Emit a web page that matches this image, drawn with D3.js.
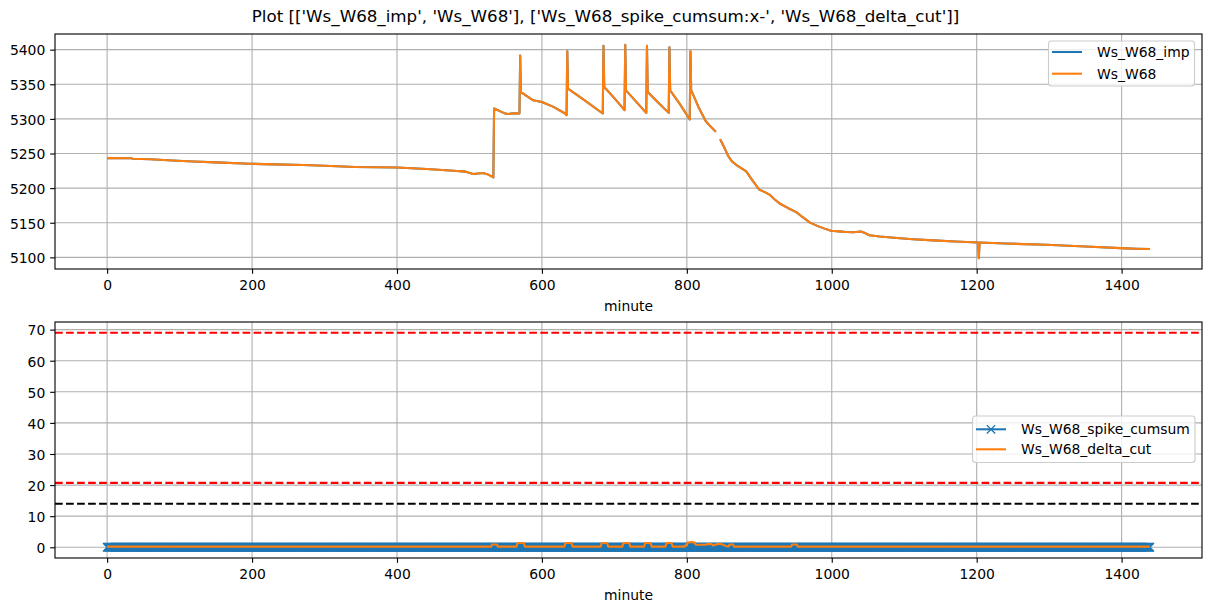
<!DOCTYPE html>
<html><head><meta charset="utf-8">
<script src="https://cdn.jsdelivr.net/npm/d3@7"></script>
<style>
body{margin:0;background:#fff}
svg{display:block;font-family:"DejaVu Sans",sans-serif}
</style>
</head><body>
<svg id="c" width="1211" height="611"></svg>
<script>
// ---------------- data ----------------
const titleText = "Plot [['Ws_W68_imp', 'Ws_W68'], ['Ws_W68_spike_cumsum:x-', 'Ws_W68_delta_cut']]";
const xLabel = "minute";
const xTicks = [0, 200, 400, 600, 800, 1000, 1200, 1400];
const topYTicks = [5100, 5150, 5200, 5250, 5300, 5350, 5400];
const bottomYTicks = [0, 10, 20, 30, 40, 50, 60, 70];
const minuteRange = [0, 1439];

// Ws_W68 (breakpoints; null = missing data gap)
const w68Minutes = [0, 34, 35, 60, 90, 119, 150, 197, 230, 271, 300, 342, 400, 441, 478, 495, 505, 512, 519, 526, 533,
  534, 548, 553, 560, 569, 570, 571, 588, 600, 616, 632, 634, 635, 636, 660, 684, 685, 686, 700, 714, 715, 716, 730, 744,
  745, 746, 760, 775, 776, 777, 790, 804, 805, 806, 812, 816, 826, 831, 840, 843,
  846, 852, 857, 862, 868, 875, 882, 890, 900, 907, 914, 921, 928, 940, 951, 960, 970, 980, 990, 999, 1010, 1020, 1030,
  1040, 1045, 1052, 1066, 1090, 1112, 1140, 1170, 1202, 1203, 1204, 1240, 1296, 1350, 1406, 1420, 1439];
const w68Values = [5243.3, 5243.1, 5242.5, 5241.6, 5240.0, 5238.5, 5237.2, 5235.2, 5234.3, 5233.3, 5232.3, 5230.4, 5229.9,
  5227.6, 5225.1, 5223.8, 5220.4, 5221.2, 5221.8, 5219.5, 5215.5,
  5315.0, 5308.3, 5307.0, 5308.0, 5307.8, 5391.4, 5338.8, 5326.9, 5324.5, 5317.3, 5307.8, 5305.4, 5397.6, 5343.7, 5326.0,
  5307.8, 5405.7, 5346.0, 5330.0, 5312.6, 5407.2, 5341.2, 5325.0, 5308.7, 5405.7, 5338.8, 5324.0, 5308.7, 5403.3, 5341.2,
  5322.0, 5299.2, 5397.6, 5341.2, 5327.0, 5317.3, 5297.0, 5291.0, 5281.5, null,
  5270.6, 5258.0, 5246.6, 5239.0, 5233.7, 5229.0, 5224.1, 5212.0, 5197.9, 5194.5, 5190.7, 5184.0, 5177.8, 5171.0, 5165.4,
  5158.0, 5150.2, 5145.5, 5141.5, 5138.4, 5137.5, 5136.7, 5136.2, 5137.3, 5135.5, 5132.0, 5130.1, 5128.0, 5126.2, 5124.5,
  5123.0, 5121.5, 5098.6, 5121.5, 5120.0, 5118.1, 5115.6, 5113.0, 5112.5, 5112.0];
// Ws_W68_imp coincides with Ws_W68 everywhere in the picture (hidden under it)
const impMinutes = w68Minutes;
const impValues = w68Values;

// Ws_W68_spike_cumsum: zero for every minute (run-length: start, end, value)
const spikeCumsumRuns = [[0, 1439, 0]];

// Ws_W68_delta_cut breakpoints
const deltaMinutes = [0, 530, 531, 538, 539, 565, 566.5, 575, 576.5, 631, 632.5, 641, 642.5, 681, 682.5, 690, 691.5,
  711, 712.5, 720.5, 722, 741, 742.5, 750, 751.5, 770.5, 772, 779, 780.5, 797, 798, 800, 801, 806, 811, 812, 826, 828,
  834, 836, 840, 845, 850, 855, 858, 859, 864, 865, 944, 945, 952, 953, 1439];
const deltaValues = [0.2, 0.2, 0.9, 0.9, 0.2, 0.2, 1.4, 1.4, 0.2, 0.2, 1.4, 1.4, 0.2, 0.2, 1.4, 1.4, 0.2,
  0.2, 1.4, 1.4, 0.2, 0.2, 1.4, 1.4, 0.2, 0.2, 1.4, 1.4, 0.2, 0.2, 0.6, 0.6, 1.5, 1.7, 1.5, 0.8, 0.8, 1.0,
  1.0, 0.6, 0.9, 1.1, 0.8, 0.3, 0.3, 0.9, 0.9, 0.2, 0.2, 0.9, 0.9, 0.2, 0.2];

// horizontal reference lines
const hlineValues = [69, 20.7, 14];
const hlineColors = ["red", "red", "black"];

// ---------------- layout / style ----------------
const C1 = "#1f77b4", C2 = "#ff7f0e";
const LW = 2.08, GRID = "#b0b0b0", FS = 13.9;
const left = 55, right = 1202;
const topBox = {t: 34, b: 269};
const botBox = {t: 322, b: 558};

const svg = d3.select("#c");
svg.append("rect").attr("width", 1211).attr("height", 611).attr("fill", "#fff");

const pad = (lo, hi) => { const m = (hi - lo) * 0.05; return [lo - m, hi + m]; };

const x = d3.scaleLinear().domain(pad(minuteRange[0], minuteRange[1])).range([left, right]);

const topVals = w68Values.concat(impValues).filter(v => v != null);
const yTop = d3.scaleLinear().domain(pad(d3.min(topVals), d3.max(topVals))).range([topBox.b, topBox.t]);

const cumsum = [];
spikeCumsumRuns.forEach(([s, e, v]) => { for (let m = s; m <= e; m++) cumsum.push([m, v]); });
const botAll = cumsum.map(d => d[1]).concat(deltaValues, hlineValues);
const yBot = d3.scaleLinear().domain(pad(d3.min(botAll), d3.max(botAll))).range([botBox.b, botBox.t]);

// title
svg.append("text").attr("x", 605.5).attr("y", 22).attr("text-anchor", "middle")
  .attr("font-size", 16.7).attr("fill", "#000").text(titleText);

function drawAxes(g, y, box, yTicks) {
  // clip
  // grid
  g.append("g").selectAll("line").data(xTicks).join("line")
    .attr("x1", d => x(d)).attr("x2", d => x(d)).attr("y1", box.t).attr("y2", box.b)
    .attr("stroke", GRID).attr("stroke-width", 1.11);
  g.append("g").selectAll("line").data(yTicks).join("line")
    .attr("x1", left).attr("x2", right).attr("y1", d => y(d)).attr("y2", d => y(d))
    .attr("stroke", GRID).attr("stroke-width", 1.11);
}
function drawFrame(g, y, box, yTicks) {
  const xa = g.append("g").attr("transform", `translate(0,${box.b})`)
    .call(d3.axisBottom(x).tickValues(xTicks).tickSize(4.86).tickPadding(4.86).tickFormat(d3.format("d")));
  const ya = g.append("g").attr("transform", `translate(${left},0)`)
    .call(d3.axisLeft(y).tickValues(yTicks).tickSize(4.86).tickPadding(4.86).tickFormat(d3.format("d")));
  [xa, ya].forEach(a => {
    a.select(".domain").remove();
    a.selectAll("line").attr("stroke", "#000").attr("stroke-width", 1.11);
    a.selectAll("text").attr("font-size", FS).attr("fill", "#000").attr("font-family", '"DejaVu Sans",sans-serif');
  });
  xa.selectAll("text").attr("dy", null).attr("y", 21);
  ya.selectAll("text").attr("dy", "0.38em");
  g.append("rect").attr("x", left).attr("y", box.t).attr("width", right - left).attr("height", box.b - box.t)
    .attr("fill", "none").attr("stroke", "#000").attr("stroke-width", 1.11);
  g.append("text").attr("x", (left + right) / 2).attr("y", box.b + 42).attr("text-anchor", "middle")
    .attr("font-size", FS).attr("fill", "#000").text(xLabel);
}

const defs = svg.append("defs");
defs.append("clipPath").attr("id", "clipTop").append("rect")
  .attr("x", left).attr("y", topBox.t).attr("width", right - left).attr("height", topBox.b - topBox.t);
defs.append("clipPath").attr("id", "clipBot").append("rect")
  .attr("x", left).attr("y", botBox.t).attr("width", right - left).attr("height", botBox.b - botBox.t);

// ---------- top panel ----------
const gTop = svg.append("g");
drawAxes(gTop, yTop, topBox, topYTicks);
const lineTop = d3.line().defined(d => d[1] != null).x(d => x(d[0])).y(d => yTop(d[1]));
const pTop = gTop.append("g").attr("clip-path", "url(#clipTop)");
pTop.append("path").datum(impMinutes.map((m, i) => [m, impValues[i]])).attr("d", lineTop)
  .attr("fill", "none").attr("stroke", C1).attr("stroke-width", LW).attr("stroke-linejoin", "round");
pTop.append("path").datum(w68Minutes.map((m, i) => [m, w68Values[i]])).attr("d", lineTop)
  .attr("fill", "none").attr("stroke", C2).attr("stroke-width", LW).attr("stroke-linejoin", "round");
drawFrame(gTop, yTop, topBox, topYTicks);

// legend top
const lgT = svg.append("g");
lgT.append("rect").attr("x", 1048.5).attr("y", 41).attr("width", 146).attr("height", 45).attr("rx", 3)
  .attr("fill", "#fff").attr("fill-opacity", 0.8).attr("stroke", "#cccccc").attr("stroke-width", 1.11);
[["Ws_W68_imp", C1, 52], ["Ws_W68", C2, 73.7]].forEach(([t, c, yy]) => {
  lgT.append("line").attr("x1", 1052).attr("x2", 1082).attr("y1", yy).attr("y2", yy)
    .attr("stroke", c).attr("stroke-width", LW);
  lgT.append("text").attr("x", 1097).attr("y", yy + 5).attr("font-size", FS).attr("fill", "#000").text(t);
});

// ---------- bottom panel ----------
const gBot = svg.append("g");
drawAxes(gBot, yBot, botBox, bottomYTicks);
const pBot = gBot.append("g").attr("clip-path", "url(#clipBot)");
hlineValues.forEach((v, i) => {
  pBot.append("line").attr("x1", left).attr("x2", right).attr("y1", yBot(v)).attr("y2", yBot(v))
    .attr("stroke", hlineColors[i]).attr("stroke-width", LW).attr("stroke-dasharray", "7.7,3.33");
});
const lineBot = d3.line().x(d => x(d[0])).y(d => yBot(d[1]));
pBot.append("path").datum(cumsum).attr("d", lineBot)
  .attr("fill", "none").attr("stroke", C1).attr("stroke-width", LW);
const mk = "M-4.17,-4.17L4.17,4.17M-4.17,4.17L4.17,-4.17";
pBot.append("g").selectAll("path").data(cumsum).join("path")
  .attr("d", mk).attr("transform", d => `translate(${x(d[0])},${yBot(d[1])})`)
  .attr("stroke", C1).attr("stroke-width", 1.39).attr("fill", "none");
pBot.append("path").datum(deltaMinutes.map((m, i) => [m, deltaValues[i]])).attr("d", lineBot)
  .attr("fill", "none").attr("stroke", C2).attr("stroke-width", LW).attr("stroke-linejoin", "round");
drawFrame(gBot, yBot, botBox, bottomYTicks);

// legend bottom
const lgB = svg.append("g");
lgB.append("rect").attr("x", 972.5).attr("y", 416).attr("width", 222.5).attr("height", 46.5).attr("rx", 3)
  .attr("fill", "#fff").attr("fill-opacity", 0.8).attr("stroke", "#cccccc").attr("stroke-width", 1.11);
[["Ws_W68_spike_cumsum", C1, 429.3, true], ["Ws_W68_delta_cut", C2, 449.3, false]].forEach(([t, c, yy, m]) => {
  lgB.append("line").attr("x1", 976).attr("x2", 1006).attr("y1", yy).attr("y2", yy)
    .attr("stroke", c).attr("stroke-width", LW);
  if (m) lgB.append("path").attr("d", mk).attr("transform", `translate(991,${yy})`)
    .attr("stroke", c).attr("stroke-width", 1.39).attr("fill", "none");
  lgB.append("text").attr("x", 1021).attr("y", yy + 5).attr("font-size", FS).attr("fill", "#000").text(t);
});
</script>
</body></html>
